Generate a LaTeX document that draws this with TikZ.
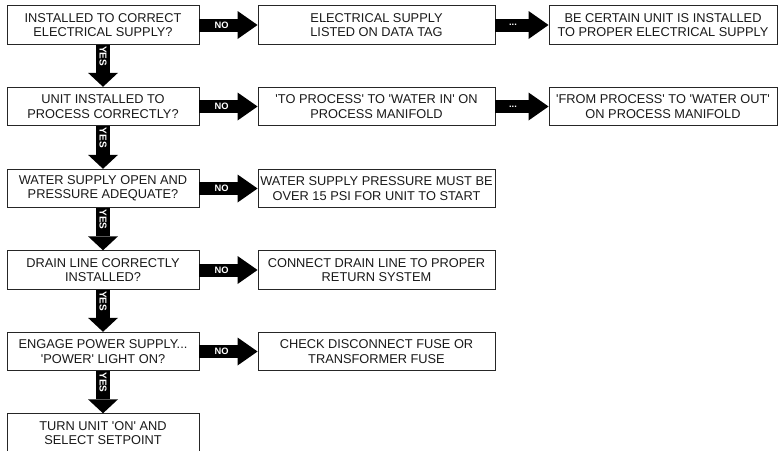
\documentclass[tikz,border=0pt]{standalone}
\usepackage{fontspec}
\setmainfont{Liberation Sans}
\usetikzlibrary{arrows.meta}
\newcommand{\sq}{\textquotesingle}
\begin{document}
\begin{tikzpicture}[x=1pt,y=-1pt,
 box/.style={draw=black!85, line width=0.9pt, inner sep=0pt, minimum height=38.5pt, align=center, font=\fontsize{12.8}{14.3}\selectfont, text=black!90},
 lbox/.style={box, minimum width=192pt},
 mbox/.style={box, minimum width=237pt},
 rbox/.style={box, minimum width=228pt},
 noarr/.style={draw=black, line width=13pt, -{Triangle[length=20pt,width=28pt,line width=0pt]}},
 yesarr/.style={draw=black, line width=14pt, -{Triangle[length=14pt,width=30pt,line width=0pt]}},
 lab/.style={text=white, font=\bfseries\fontsize{9.3}{9.3}\selectfont, inner sep=0pt},
 ylab/.style={lab, rotate=-90, font=\bfseries\fontsize{10}{10}\selectfont}
]
\useasboundingbox (0,0) rectangle (778,450);
\node[lbox] (q1) at (103,25) {INSTALLED TO CORRECT\\ELECTRICAL SUPPLY?};
\node[mbox] (m1) at (376.5,25) {ELECTRICAL SUPPLY\\LISTED ON DATA TAG};
\node[rbox] (r1) at (663,25) {BE CERTAIN UNIT IS INSTALLED\\TO PROPER ELECTRICAL SUPPLY};
\node[lbox] (q2) at (103,106.5) {UNIT INSTALLED TO\\PROCESS CORRECTLY?};
\node[mbox] (m2) at (376.5,106.5) {\sq TO PROCESS\sq{} TO \sq WATER IN\sq{} ON\\PROCESS MANIFOLD};
\node[rbox] (r2) at (663,106.5) {\sq FROM PROCESS\sq{} TO \sq WATER OUT\sq\\ON PROCESS MANIFOLD};
\node[lbox] (q3) at (103,188.5) {WATER SUPPLY OPEN AND\\PRESSURE ADEQUATE?};
\node[mbox] (m3) at (376.5,188.5) {WATER SUPPLY PRESSURE MUST BE\\OVER 15 PSI FOR UNIT TO START};
\node[lbox] (q4) at (103,270) {DRAIN LINE CORRECTLY\\INSTALLED?};
\node[mbox] (m4) at (376.5,270) {CONNECT DRAIN LINE TO PROPER\\RETURN SYSTEM};
\node[lbox] (q5) at (103,351.5) {ENGAGE POWER SUPPLY...\\\sq POWER\sq{} LIGHT ON?};
\node[mbox] (m5) at (376.5,351.5) {CHECK DISCONNECT FUSE OR\\TRANSFORMER FUSE};
\node[lbox] (q6) at (103,433) {TURN UNIT \sq ON\sq{} AND\\SELECT SETPOINT};
\foreach \i in {1,...,5} {
  \draw[noarr] (q\i.east) -- (m\i.west) node[lab, pos=0.38] {NO};
}
\draw[noarr] (m1.east) -- (r1.west) node[lab, pos=0.33] {...};
\draw[noarr] (m2.east) -- (r2.west) node[lab, pos=0.33] {...};
\foreach \i/\j in {1/2,2/3,3/4,4/5,5/6} {
  \draw[yesarr] (q\i.south) -- (q\j.north) node[ylab, pos=0.27] {YES};
}
\end{tikzpicture}
\end{document}
